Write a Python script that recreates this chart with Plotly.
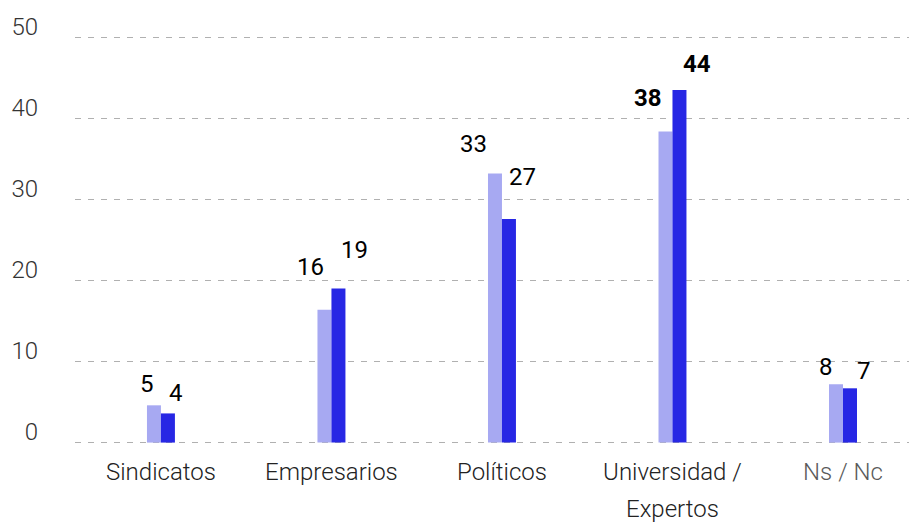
import plotly.graph_objects as go

categories = ["Sindicatos", "Empresarios", "Políticos", "Universidad /", "Ns / Nc"]
tick_text = ["Sindicatos", "Empresarios", "Políticos", "Universidad /",
             "<span style='color:#5a5a5a'>Ns / Nc</span>"]
series_a = [4.6, 16.4, 33.2, 38.4, 7.2]   # light bars
series_b = [3.6, 19.0, 27.6, 43.5, 6.7]   # dark bars
labels_a = ["5", "16", "33", "38", "8"]
labels_b = ["4", "19", "27", "44", "7"]
bold_cats = ["Universidad /"]
y_ticks = [0, 10, 20, 30, 40, 50]
edge_grid = [0, 50]

# label placement styles (pixel shifts)
shift_a = [(-14, 21), (-21, 43), (-28, 30), (-24, 33), (-17, 17)]
shift_b = [(15, 20), (23, 39), (21, 42), (25, 26), (21, 17)]

LIGHT = "#a7a9f2"
DARK = "#2727e4"
GRID = "#b0b0b0"
BW = 0.082

fig = go.Figure()
fig.add_trace(go.Bar(x=categories, y=series_a, width=BW, offset=-BW,
                     marker=dict(color=LIGHT, line=dict(width=0)), hoverinfo="skip"))
fig.add_trace(go.Bar(x=categories, y=series_b, width=BW, offset=0,
                     marker=dict(color=DARK, line=dict(width=0)), hoverinfo="skip"))

annotations = []
for i, c in enumerate(categories):
    for vals, labs, sh in ((series_a, labels_a, shift_a), (series_b, labels_b, shift_b)):
        bold = c in bold_cats
        annotations.append(dict(
            x=c, y=vals[i], xref="x", yref="y", text=(f"<b>{labs[i]}</b>" if bold else labs[i]),
            showarrow=False, xanchor="center", yanchor="middle",
            xshift=sh[i][0], yshift=sh[i][1],
            font=dict(family="Roboto", size=24, color="#000000")))
# second line of the "Universidad / Expertos" category label
annotations.append(dict(x="Universidad /", y=0, xref="x", yref="y", text="Expertos",
                        showarrow=False, xanchor="center", yanchor="middle", yshift=-66,
                        font=dict(family="Roboto", size=24, color="#222222", weight=300)))

shapes = [dict(type="line", xref="paper", yref="y", x0=0, x1=1, y0=v, y1=v, layer="below",
               line=dict(color=GRID, width=1.3, dash="6px,7px")) for v in edge_grid]

# (page body adds an 8px offset; margins compensate)
fig.update_layout(
    width=917, height=523,
    margin=dict(l=67, r=8, t=28.6, b=87.7, autoexpand=False),
    paper_bgcolor="white", plot_bgcolor="white",
    showlegend=False,
    barmode="overlay",
    annotations=annotations,
    shapes=shapes,
    xaxis=dict(range=[-0.504, 4.434], showgrid=False, zeroline=False, showline=False,
               tickvals=categories, ticktext=tick_text,
               ticks="", ticklabelstandoff=12, automargin=False,
               tickfont=dict(family="Roboto", size=24, color="#222222", weight=300)),
    yaxis=dict(range=[-0.05, 50.05], tickvals=y_ticks, showgrid=True, gridcolor=GRID,
               griddash="6px,7px", gridwidth=1.3, zeroline=False, showline=False,
               ticks="", ticklabelstandoff=36, ticklabelshift=-11, automargin=False,
               tickfont=dict(family="Roboto", size=24, color="#333333", weight=300)),
)

fig.write_html("out.html")
